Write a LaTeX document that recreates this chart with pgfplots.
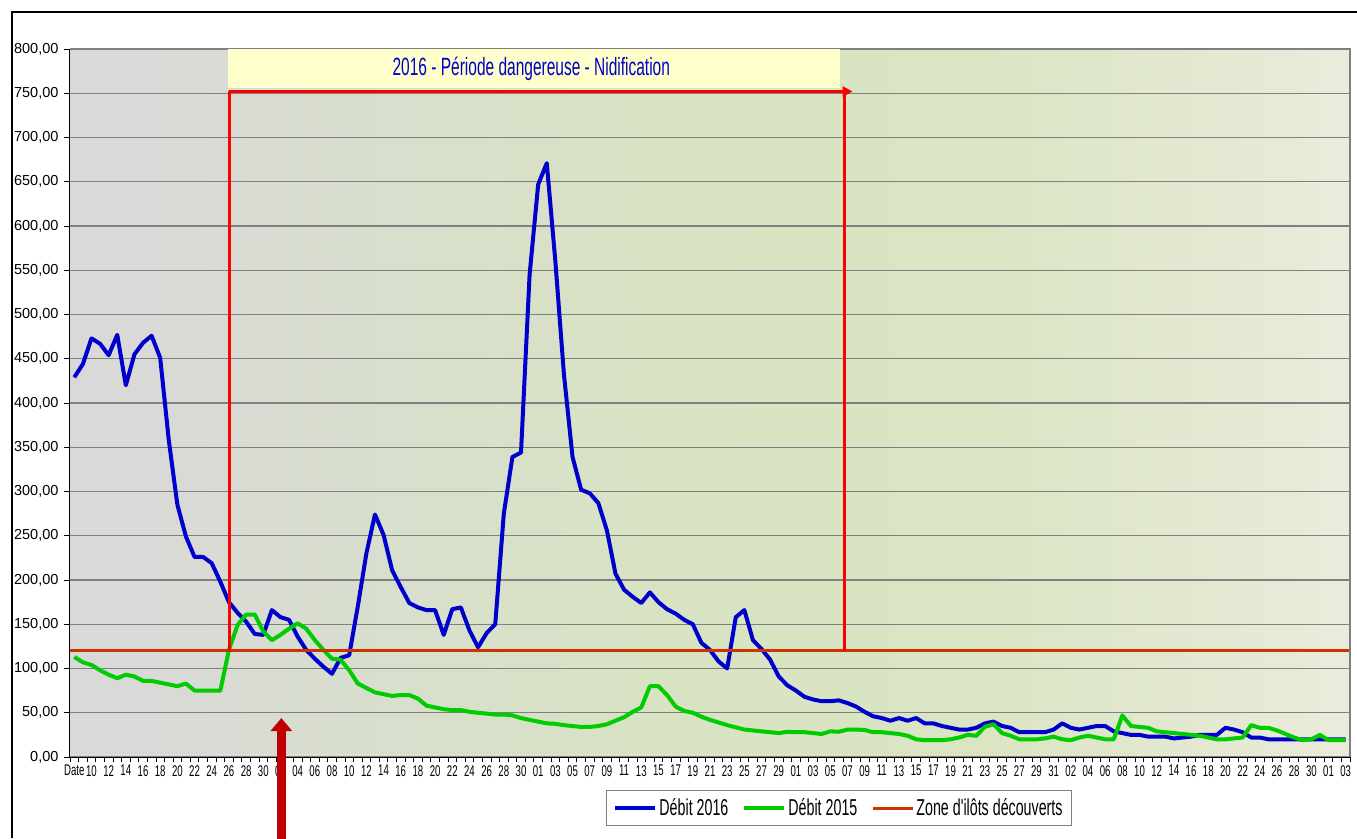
\documentclass[border=0pt]{standalone}
\usepackage{fontspec}
\setmainfont{Liberation Sans}
\newfontfamily\cond[FakeStretch=0.62]{Liberation Sans}
\usepackage{pgfplots}
\usepackage{pgfplotstable}
\pgfplotsset{compat=1.18}
\usetikzlibrary{arrows.meta}
\definecolor{blue16}{RGB}{0,0,204}
\definecolor{green15}{RGB}{0,204,0}
\definecolor{zone}{RGB}{204,51,0}
\definecolor{darkred}{RGB}{192,0,0}
\definecolor{titleyellow}{RGB}{255,255,204}
\definecolor{gridgray}{RGB}{128,128,128}
\pgfdeclarehorizontalshading{bgshade}{100bp}{rgb(0bp)=(0.851,0.851,0.851); rgb(25bp)=(0.851,0.851,0.851); rgb(28bp)=(0.851,0.852,0.845); rgb(38bp)=(0.847,0.875,0.800); rgb(48bp)=(0.847,0.890,0.765); rgb(60bp)=(0.855,0.898,0.765); rgb(68bp)=(0.885,0.910,0.810); rgb(75bp)=(0.922,0.922,0.860); rgb(100bp)=(0.922,0.922,0.860)}

\pgfplotstableread{
i v
0 429
1 444
2 473
3 467
4 454
5 477
6 420
7 455
8 468
9 476
10 451
11 358
12 285
13 249
14 226
15 226
16 219
17 198
18 175
19 163
20 153
21 139
22 138
23 166
24 158
25 155
26 136
27 121
28 111
29 102
30 94
31 112
32 115
33 170
34 230
35 274
36 251
37 211
38 192
39 174
40 169
41 166
42 166
43 138
44 167
45 169
46 143
47 124
48 140
49 150
50 275
51 339
52 344
53 545
54 647
55 671
56 560
57 432
58 339
59 302
60 298
61 287
62 256
63 207
64 189
65 181
66 174
67 186
68 175
69 167
70 162
71 155
72 150
73 129
74 121
75 108
76 100
77 158
78 166
79 132
80 122
81 110
82 91
83 81
84 75
85 68
86 65
87 63
88 63
89 64
90 61
91 57
92 51
93 46
94 44
95 41
96 44
97 41
98 44
99 38
100 38
101 35
102 33
103 31
104 31
105 33
106 38
107 40
108 35
109 33
110 28
111 28
112 28
113 28
114 31
115 38
116 33
117 31
118 33
119 35
120 35
121 29
122 27
123 25
124 25
125 23
126 23
127 23
128 21
129 22
130 23
131 25
132 25
133 25
134 33
135 31
136 28
137 22
138 22
139 20
140 20
141 20
142 20
143 20
144 20
145 20
146 20
147 20
148 20
}\debitA

\pgfplotstableread{
i v
0 113
1 107
2 104
3 98
4 93
5 89
6 93
7 91
8 86
9 86
10 84
11 82
12 80
13 83
14 75
15 75
16 75
17 75
18 121
19 149
20 161
21 161
22 142
23 132
24 138
25 145
26 151
27 145
28 132
29 121
30 111
31 110
32 98
33 83
34 78
35 73
36 71
37 69
38 70
39 70
40 66
41 58
42 56
43 54
44 53
45 53
46 51
47 50
48 49
49 48
50 48
51 47
52 44
53 42
54 40
55 38
56 37.5
57 36
58 35
59 34
60 34
61 35
62 37
63 41
64 45
65 51
66 56
67 80
68 80
69 70
70 57
71 52
72 50
73 45.5
74 42
75 39
76 36
77 33.5
78 31
79 30
80 29
81 28
82 27
83 28.5
84 28
85 28
86 27
87 26
88 29
89 28.5
90 31
91 31
92 30.5
93 28
94 28
95 27
96 26
97 24
98 20
99 19
100 19
101 19
102 20
103 22
104 25
105 24
106 34
107 37
108 27
109 24
110 20
111 20
112 20
113 21
114 23
115 20
116 19
117 22
118 24
119 22
120 20
121 20
122 47
123 35
124 34
125 33
126 29
127 28
128 27
129 26
130 25
131 24
132 22
133 20
134 20
135 21
136 22
137 36
138 33
139 33
140 30
141 26
142 22
143 19
144 20
145 25
146 19
147 19
148 19
}\debitB

\begin{document}
\begin{tikzpicture}[x=1pt,y=1pt]
\path[use as bounding box] (0,0) rectangle (1357,838);
\draw[black, line width=1.2pt] (12,0) -- (12,826) -- (1357,826);
\begin{axis}[
  at={(70pt,81pt)}, anchor=south west,
  scale only axis, width=1280pt, height=708pt,
  xmin=-0.5, xmax=148.5, ymin=0, ymax=800,
  axis x line*=bottom, axis y line*=left,
  axis line style={black, line width=1pt},
  axis background/.style={shade, shading=bgshade},
  clip=false,
  tick align=outside,
  xtick={0,2,...,148},
  xticklabels={Date,10,12,14,16,18,20,22,24,26,28,30,02,04,06,08,10,12,14,16,18,20,22,24,26,28,30,01,03,05,07,09,11,13,15,17,19,21,23,25,27,29,01,03,05,07,09,11,13,15,17,19,21,23,25,27,29,31,02,04,06,08,10,12,14,16,18,20,22,24,26,28,30,01,03},
  minor xtick={-0.5,0.5,...,148.5},
  major x tick style={draw=none},
  minor x tick style={black, line width=0.8pt},
  minor tick length=5pt,
  ytick={0,50,...,800},
  major y tick style={black, line width=0.8pt},
  major tick length=6pt,
  ymajorgrids,
  major grid style={gridgray, line width=1.1pt},
  /pgf/number format/.cd, fixed, fixed zerofill, precision=2, use comma, assume math mode=true,
  /pgfplots/.cd,
  yticklabel style={font=\fontsize{14.5}{14.5}\selectfont, xshift=-2pt},
  xticklabel style={font=\cond\fontsize{15.5}{15.5}\selectfont, inner sep=1pt, yshift=-1pt},
  legend style={at={(0.6008,-0.047)}, anchor=north, legend columns=3,
    draw=gray, line width=1.2pt, fill=white,
    font=\cond\fontsize{23}{23}\selectfont,
    inner xsep=7pt, inner ysep=6pt,
    /tikz/every even column/.append style={column sep=12pt}},
  legend image code/.code={\draw[#1] (0pt,0pt) -- (40pt,0pt);},
  legend cell align=left,
]
\addplot[blue16, line width=4pt, line join=round] table[x=i, y=v] {\debitA};
\addlegendentry{Débit 2016}
\addplot[green15, line width=4pt, line join=round] table[x=i, y=v] {\debitB};
\addlegendentry{Débit 2015}
\addplot[zone, line width=3pt] coordinates {(-0.5,120) (148.5,120)};
\addlegendentry{Zone d'ilôts découverts}
\draw[gridgray, line width=1.1pt] (rel axis cs:0,1) -- (rel axis cs:1,1) -- (rel axis cs:1,0);
\fill[titleyellow] (axis cs:17.9,756) rectangle (axis cs:89.1,799.5);
\node[text=blue16, font=\cond\fontsize{25}{25}\selectfont] at (axis cs:53.2,778) {2016 - Période dangereuse - Nidification};
\draw[red, line width=3pt] (axis cs:18.05,120) -- (axis cs:18.05,752);
\draw[red, line width=3pt, -{Triangle[length=10pt,width=10pt]}] (axis cs:18.05,752) -- (axis cs:90.6,752);
\draw[red, line width=3pt] (axis cs:89.6,753) -- (axis cs:89.6,120);
\draw[darkred, line width=9pt, -{Triangle[length=13pt,width=21pt]}] (axis cs:24.1,-95) -- (axis cs:24.1,44);
\end{axis}
\end{tikzpicture}
\end{document}
